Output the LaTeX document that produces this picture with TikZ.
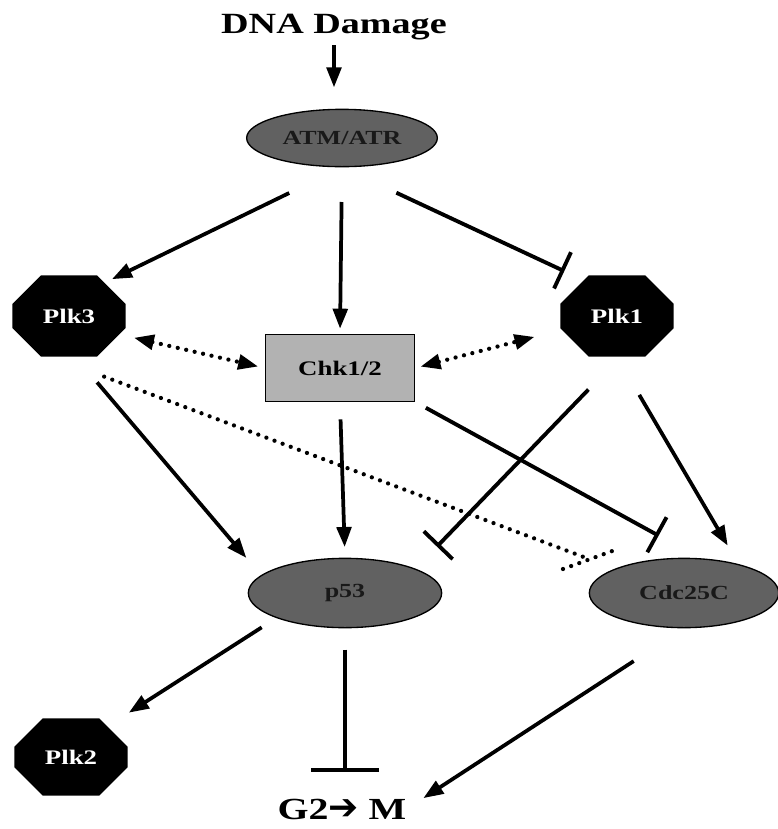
\documentclass[tikz,border=0pt]{standalone}
\usepackage{fontspec}
\setmainfont{Liberation Serif}[FakeStretch=1.3]
\newfontfamily\arrowfont{DejaVu Sans}
\usetikzlibrary{positioning,calc,arrows.meta,shapes.geometric,shapes.misc}
\tikzset{oval/.style={ellipse, draw, line width=1pt, fill=black!62, text=black!90, inner sep=0pt, font=\fontsize{15}{18}\selectfont\bfseries}}
\tikzset{plkbox/.style={chamfered rectangle, chamfered rectangle xsep=22pt, chamfered rectangle ysep=16pt, fill=black, text=white, inner sep=0pt, minimum width=85pt, minimum height=61pt, font=\fontsize{15.5}{18}\selectfont\bfseries}}
\tikzset{chkbox/.style={rectangle, draw, line width=1pt, fill=black!30, minimum width=112pt, minimum height=50pt, font=\fontsize{15.5}{18}\selectfont\bfseries}}
\tikzset{bigtext/.style={inner sep=0pt, font=\fontsize{22}{26}\selectfont\bfseries}}
\tikzset{act/.style={draw, line width=2.8pt, -{Triangle[length=15pt,width=11pt]}}}
\tikzset{inh/.style={draw, line width=2.9pt, -{Bar[width=30pt]}}}
\tikzset{dots/.style={draw, line width=3.2pt, line cap=round, dash pattern=on 0pt off 6.5pt}}
\tikzset{dact/.style={dots, {Triangle[length=15pt,width=11pt]}-{Triangle[length=15pt,width=11pt]}}}

\begin{document}
\begin{tikzpicture}[x=0.75pt,y=-0.75pt]
  \useasboundingbox (0,0) rectangle (778,829);
  \node[bigtext, anchor=base] (dna) at (334,33) {DNA Damage};
  \node[oval, minimum width=143pt, minimum height=43pt] (atm) at (342,138) {ATM/ATR};
  \node[plkbox] (plk3) at (69,316) {Plk3};
  \node[plkbox] (plk1) at (617,316) {Plk1};
  \node[chkbox] (chk) at (340,368) {Chk1/2};
  \node[oval, minimum width=145pt, minimum height=52pt] (p53) at (345,593) {p53};
  \node[oval, minimum width=142pt, minimum height=52pt] (cdc) at (684,593) {Cdc25C};
  \node[plkbox, minimum height=58pt] (plk2) at (71,757) {Plk2};
  \node[bigtext, anchor=base, font=\fontsize{23}{27}\selectfont\bfseries] (g2m) at (342,819) {G2{\arrowfont\fontsize{27}{30}\selectfont ➔} M};
  % from the top
  \draw[act, shorten <=4pt, shorten >=16pt] (dna.south) -- (dna.south |- atm.north);
  \draw[act, shorten <=26pt, shorten >=4pt] (atm.south) -- (chk.north);
  \draw[act, shorten <=44pt, shorten >=6pt] (atm.south) -- (plk3.43);
  \draw[inh, shorten <=45pt, shorten >=16pt] (atm.south) -- (plk1.133);
  \draw[dact, shorten <=11pt, shorten >=5pt] (plk3.-20) -- (chk.west);
  \draw[dact, shorten <=4pt, shorten >=21pt] (chk.east) -- (plk1.-166);
  % middle row
  \draw[act, shorten <=25pt, shorten >=17pt] (plk3.-81) -- (p53.168);
  \draw[act, shorten <=13pt, shorten >=8pt] (chk.south) -- (p53.north);
  \draw[inh, shorten <=34pt, shorten >=23pt] (plk1.-86) -- (p53.19);
  \draw[inh, shorten <=9pt, shorten >=35pt] (chk.south east) -- (cdc.66);
  \draw[act, shorten <=33pt, shorten >=16pt] (plk1.south) -- (cdc.28);
  \coordinate (dotend) at (589,559);
  \draw[dots] ([yshift=-20pt]plk3.-44) -- (dotend);
  \draw[dots] (dotend) ++(-26,10) -- ++(52,-19);
  % bottom
  \draw[act, shorten <=13pt, shorten >=19pt] (p53.200) -- (plk2.40);
  \draw[inh, -{Bar[width=51pt]}, shorten <=16pt, shorten >=20pt] (p53.south) -- (p53.south |- g2m.north);
  \draw[act, shorten <=45pt, shorten >=15pt] (cdc.south) -- (g2m.east);
\end{tikzpicture}
\end{document}
